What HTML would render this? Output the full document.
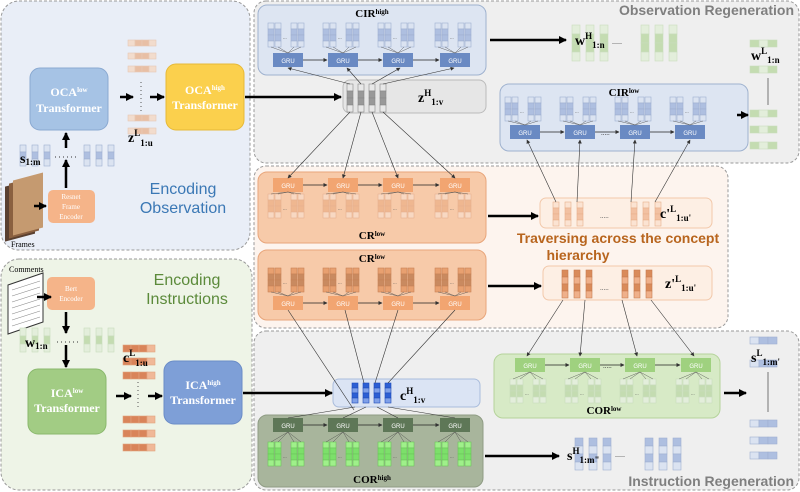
<!DOCTYPE html>
<html><head><meta charset="utf-8"><style>
html,body{margin:0;padding:0;background:#fff;}
svg{display:block;font-family:"Liberation Serif",serif;}
.w{fill:#fff;font-weight:bold;}
.b{font-weight:bold;}
.s{font-family:"Liberation Sans",sans-serif;}
</style></head><body>
<svg id="s" width="800" height="492" viewBox="0 0 800 492" xmlns="http://www.w3.org/2000/svg">
<defs>
<marker id="ah" markerUnits="userSpaceOnUse" markerWidth="8" markerHeight="8" refX="7" refY="4" orient="auto"><path d="M0,0 L8,4 L0,8 z" fill="#000"/></marker>
<marker id="as" markerUnits="userSpaceOnUse" markerWidth="4" markerHeight="4" refX="3.5" refY="2" orient="auto"><path d="M0,0 L4,2 L0,4 z" fill="#333"/></marker>
</defs>
<!-- panels -->
<rect x="1" y="1" width="249" height="249" rx="18" fill="#e9eef7" stroke="#999" stroke-dasharray="3,2"/>
<rect x="1" y="259" width="251" height="231" rx="18" fill="#eef4e7" stroke="#999" stroke-dasharray="3,2"/>
<rect x="254" y="1" width="545" height="162" rx="12" fill="#efefef" stroke="#999" stroke-dasharray="3,2"/>
<rect x="254" y="166" width="474" height="162" rx="12" fill="#fdf4ee" stroke="#999" stroke-dasharray="3,2"/>
<rect x="254" y="331" width="545" height="159" rx="12" fill="#efefef" stroke="#999" stroke-dasharray="3,2"/>
<text x="794" y="15" text-anchor="end" class="s b" font-size="14" fill="#7f7f7f">Observation Regeneration</text>
<text x="794" y="486" text-anchor="end" class="s b" font-size="14" fill="#7f7f7f">Instruction Regeneration</text>
<text x="183" y="194" text-anchor="middle" class="s" font-size="16" fill="#3b78b5">Encoding</text>
<text x="183" y="213" text-anchor="middle" class="s" font-size="16" fill="#3b78b5">Observation</text>
<text x="187" y="285" text-anchor="middle" class="s" font-size="16" fill="#5b8a3a">Encoding</text>
<text x="187" y="304" text-anchor="middle" class="s" font-size="16" fill="#5b8a3a">Instructions</text>
<text x="618" y="243" text-anchor="middle" class="s b" font-size="14" fill="#b8651e">Traversing across the concept</text>
<text x="578" y="260" text-anchor="middle" class="s b" font-size="14" fill="#b8651e">hierarchy</text>

<!-- inner boxes -->
<rect x="258" y="5" width="228" height="70" rx="9" fill="#dde5f2" stroke="#9fb2cf"/>
<text x="372" y="17" text-anchor="middle" class="b" font-size="11">CIR<tspan font-size="7" dy="-3">high</tspan></text>
<rect x="343" y="80" width="143" height="33" rx="7" fill="#e6e6e6" stroke="#bbb"/>
<text x="418" y="102" class="b" font-size="14">z<tspan font-size="9" dy="-6">H</tspan><tspan font-size="9" dy="9">1:v</tspan></text>
<rect x="500" y="84" width="248" height="67" rx="9" fill="#dde5f2" stroke="#9fb2cf"/>
<text x="624" y="96" text-anchor="middle" class="b" font-size="11">CIR<tspan font-size="7" dy="-3">low</tspan></text>

<rect x="258" y="172" width="228" height="71" rx="9" fill="#f7caa9" stroke="#e8a57a"/>
<text x="372" y="239" text-anchor="middle" class="b" font-size="11">CR<tspan font-size="7" dy="-3">low</tspan></text>
<rect x="258" y="250" width="228" height="70" rx="9" fill="#f7caa9" stroke="#e8a57a"/>
<text x="372" y="262" text-anchor="middle" class="b" font-size="11">CR<tspan font-size="7" dy="-3">low</tspan></text>
<rect x="540" y="198" width="172" height="30" rx="6" fill="#fdefe4" stroke="#f2c8aa"/>
<text x="660" y="218" class="b" font-size="14">c'<tspan font-size="9" dy="-6">L</tspan><tspan font-size="9" dy="9">1:u'</tspan></text>
<rect x="543" y="266" width="169" height="34" rx="6" fill="#fdefe4" stroke="#f2c8aa"/>
<text x="665" y="288" class="b" font-size="14">z'<tspan font-size="9" dy="-6">L</tspan><tspan font-size="9" dy="9">1:u'</tspan></text>

<rect x="333" y="379" width="147" height="28" rx="6" fill="#dbe4f4" stroke="#a9bcdc"/>
<text x="400" y="400" class="b" font-size="14">c<tspan font-size="9" dy="-6">H</tspan><tspan font-size="9" dy="9">1:v</tspan></text>
<rect x="258" y="415" width="225" height="72" rx="9" fill="#a8b59c" stroke="#8f9c84"/>
<text x="372" y="483" text-anchor="middle" class="b" font-size="11">COR<tspan font-size="7" dy="-3">high</tspan></text>
<rect x="494" y="354" width="226" height="64" rx="9" fill="#d7eac6" stroke="#b5d39b"/>
<text x="604" y="414" text-anchor="middle" class="b" font-size="11">COR<tspan font-size="7" dy="-3">low</tspan></text>

<!-- left blocks -->
<rect x="30" y="68" width="78" height="62" rx="10" fill="#a6c3e5" stroke="#8aa9d1"/>
<text x="69" y="96" text-anchor="middle" class="w" font-size="12">OCA<tspan font-size="7" dy="-4">low</tspan></text>
<text x="69" y="112" text-anchor="middle" class="w" font-size="12">Transformer</text>
<rect x="166" y="64" width="78" height="66" rx="10" fill="#fbd04d" stroke="#e6b938"/>
<text x="205" y="94" text-anchor="middle" class="w" font-size="12">OCA<tspan font-size="7" dy="-4">high</tspan></text>
<text x="205" y="109" text-anchor="middle" class="w" font-size="12">Transformer</text>
<rect x="48" y="190" width="47" height="33" rx="5" fill="#f5b489"/>
<text x="71" y="199" text-anchor="middle" fill="#fff" font-size="7">Resnet</text>
<text x="71" y="209" text-anchor="middle" fill="#fff" font-size="7">Frame</text>
<text x="71" y="219" text-anchor="middle" fill="#fff" font-size="7">Encoder</text>
<g>
<rect x="5" y="185" width="30" height="55" fill="#5a4030" transform="skewY(-15) translate(0,3)"/>
<rect x="9" y="183" width="30" height="55" fill="#8a6040" transform="skewY(-15) translate(0,3)"/>
<rect x="13" y="181" width="30" height="55" fill="#c59a70" transform="skewY(-15) translate(0,3)"/>
</g>
<text x="11" y="247" font-size="8">Frames</text>
<line x1="34" y1="206" x2="46" y2="206" stroke="#000" stroke-width="2.5" marker-end="url(#ah)"/>
<line x1="66" y1="188" x2="66" y2="160" stroke="#000" stroke-width="2.5" marker-end="url(#ah)"/>
<line x1="66" y1="148" x2="66" y2="133" stroke="#000" stroke-width="2.5" marker-end="url(#ah)"/>
<text x="20" y="163" class="b" font-size="14">s<tspan font-size="9" dy="2">1:m</tspan></text>
<line x1="55" y1="157" x2="78" y2="157" stroke="#333" stroke-dasharray="1,3"/>
<line x1="120" y1="97" x2="133" y2="97" stroke="#000" stroke-width="2.5" marker-end="url(#ah)"/>
<line x1="150" y1="97" x2="164" y2="97" stroke="#000" stroke-width="2.5" marker-end="url(#ah)"/>
<line x1="141" y1="82" x2="141" y2="112" stroke="#555" stroke-dasharray="1,3"/>
<text x="128" y="142" class="b" font-size="14">z<tspan font-size="9" dy="-6">L</tspan><tspan font-size="9" dy="10">1:u</tspan></text>
<line x1="245" y1="97" x2="341" y2="97" stroke="#000" stroke-width="2.5" marker-end="url(#ah)"/>

<!-- instructions left -->
<polygon points="8,285 43,273 43,322 8,334" fill="#fff" stroke="#333"/>
<g stroke="#888" stroke-width="0.6"><line x1="12" y1="290" x2="40" y2="281"/><line x1="12" y1="296" x2="40" y2="287"/><line x1="12" y1="302" x2="40" y2="293"/><line x1="12" y1="308" x2="40" y2="299"/><line x1="12" y1="314" x2="40" y2="305"/><line x1="12" y1="320" x2="40" y2="311"/><line x1="12" y1="326" x2="40" y2="317"/></g>
<text x="9" y="272" font-size="8">Comments</text>
<rect x="47" y="277" width="48" height="33" rx="5" fill="#f5b489"/>
<text x="71" y="291" text-anchor="middle" fill="#fff" font-size="7">Bert</text>
<text x="71" y="301" text-anchor="middle" fill="#fff" font-size="7">Encoder</text>
<line x1="37" y1="297" x2="51" y2="297" stroke="#000" stroke-width="2.5" marker-end="url(#ah)"/>
<line x1="66" y1="312" x2="66" y2="333" stroke="#000" stroke-width="2.5" marker-end="url(#ah)"/>
<line x1="66" y1="345" x2="66" y2="367" stroke="#000" stroke-width="2.5" marker-end="url(#ah)"/>
<text x="25" y="347" class="b" font-size="14">w<tspan font-size="9" dy="2">1:n</tspan></text>
<line x1="57" y1="342" x2="78" y2="342" stroke="#333" stroke-dasharray="1,3"/>
<rect x="28" y="369" width="78" height="65" rx="10" fill="#a2cc84" stroke="#8ab86d"/>
<text x="67" y="397" text-anchor="middle" class="w" font-size="12">ICA<tspan font-size="7" dy="-4">low</tspan></text>
<text x="67" y="412" text-anchor="middle" class="w" font-size="12">Transformer</text>
<rect x="164" y="361" width="78" height="63" rx="10" fill="#7e9fd7" stroke="#6a8cc7"/>
<text x="203" y="389" text-anchor="middle" class="w" font-size="12">ICA<tspan font-size="7" dy="-4">high</tspan></text>
<text x="203" y="404" text-anchor="middle" class="w" font-size="12">Transformer</text>
<text x="123" y="362" class="b" font-size="14">c<tspan font-size="9" dy="-6">L</tspan><tspan font-size="9" dy="10">1:u</tspan></text>
<line x1="116" y1="396" x2="131" y2="396" stroke="#000" stroke-width="2.5" marker-end="url(#ah)"/>
<line x1="148" y1="396" x2="162" y2="396" stroke="#000" stroke-width="2.5" marker-end="url(#ah)"/>
<line x1="138" y1="382" x2="138" y2="410" stroke="#555" stroke-dasharray="1,3"/>
<line x1="243" y1="393" x2="332" y2="393" stroke="#000" stroke-width="2.5" marker-end="url(#ah)"/>

<!-- right side arrows -->
<line x1="490" y1="40" x2="566" y2="40" stroke="#000" stroke-width="2.5" marker-end="url(#ah)"/>
<line x1="488" y1="216" x2="538" y2="216" stroke="#000" stroke-width="2.5" marker-end="url(#ah)"/>
<line x1="488" y1="286" x2="541" y2="286" stroke="#000" stroke-width="2.5" marker-end="url(#ah)"/>
<line x1="737" y1="115" x2="748" y2="115" stroke="#000" stroke-width="2.5" marker-end="url(#ah)"/>
<line x1="724" y1="393" x2="746" y2="393" stroke="#000" stroke-width="2.5" marker-end="url(#ah)"/>
<line x1="485" y1="456" x2="559" y2="456" stroke="#000" stroke-width="2.5" marker-end="url(#ah)"/>
<text x="575" y="45" class="b" font-size="14">w<tspan font-size="9" dy="-6">H</tspan><tspan font-size="9" dy="9">1:n</tspan></text>
<text x="751" y="60" class="b" font-size="14">w<tspan font-size="9" dy="-6">L</tspan><tspan font-size="9" dy="9">1:n</tspan></text>
<text x="567" y="460" class="b" font-size="14">s<tspan font-size="9" dy="-6">H</tspan><tspan font-size="9" dy="9">1:m"</tspan></text>
<text x="751" y="362" class="b" font-size="14">s<tspan font-size="9" dy="-6">L</tspan><tspan font-size="9" dy="9">1:m'</tspan></text>
<g id="dyn"></g>
</svg>
<script>
var NS="http://www.w3.org/2000/svg",svg=document.getElementById("s"),g=document.getElementById("dyn");
function el(t,a){var e=document.createElementNS(NS,t);for(var k in a)e.setAttribute(k,a[k]);g.appendChild(e);return e;}
function vcol(x,y,n,w,h,f,f2,st,dark){for(var i=0;i<n;i++)el("rect",{x:x,y:y+i*h,width:w,height:h,fill:(dark&&dark.indexOf(i)>=0)?f2:f,stroke:st,"stroke-width":0.6});}
function hrow(x,y,n,w,h,f,f2,st,dark){for(var i=0;i<n;i++)el("rect",{x:x+i*w,y:y,width:w,height:h,fill:(dark&&dark.indexOf(i)>=0)?f2:f,stroke:st,"stroke-width":0.6});}
function line(x1,y1,x2,y2,c,w,m){var a={x1:x1,y1:y1,x2:x2,y2:y2,stroke:c||"#333","stroke-width":w||0.7};if(m)a["marker-end"]="url(#as)";el("line",a);}
function gru(x,y,fill){el("rect",{x:x,y:y,width:30,height:14,fill:fill});var t=el("text",{x:x+15,y:y+10,"text-anchor":"middle","font-size":6,fill:"#fff","font-family":"Liberation Sans,sans-serif"});t.textContent="GRU";}
function gruRow(xs,y,fill,vy,up,vf,vf2,vst){
 xs.forEach(function(x,i){gru(x,y,fill);
  if(i<xs.length-1)line(x+30,y+7,xs[i+1]-1,y+7,"#222",0.8,true);
  [-6,1,17,24].forEach(function(o){vcol(x+o+1,vy,4,6,6,vf,vf2,vst,[1,2]);
   if(up)line(x+15,y,x+o+4,vy+24,"#444",0.4);else line(x+15,y+14,x+o+4,vy,"#444",0.4);});
  el("text",{x:x+10,y:vy+16,"font-size":5,fill:"#555"}).textContent="...";
 });}
var BL="#dbe3f1",BD="#aebfe0",BS="#9fb0d0";
[20,32,44,84,96,108].forEach(function(x){vcol(x,145,3,6,7,BL,BD,BS,[1]);});
[40,53,66,115,128].forEach(function(y){hrow(128,y,4,7,6,"#f2dccd","#e8bfa5","#e6c9b5",[1,2]);});
var GL="#e3eedb",GD="#c4dcb1",GS="#c9dcbc";
[20,32,44,84,96,108].forEach(function(x){vcol(x,328,3,6,8,GL,GD,GS,[1]);});
[345,358,372,416,430,444].forEach(function(y){hrow(123,y,4,8,7,"#d9845a","#f0b898","#e0a27e",[3]);});
gruRow([273,328,383,440],53,"#6a8ac3",23,true,BL,BD,BS);
[347,358,369,380].forEach(function(x){vcol(x,84,4,6,7,"#e8e8e8","#999","#888",[1,2]);});
[[350,288],[361,347],[372,400],[383,454]].forEach(function(p){line(p[0],84,p[1],68,"#333",0.6,true);});
gruRow([510,565,620,675],125,"#6a8ac3",97,true,BL,BD,BS);
el("text",{x:601,y:135,"font-size":7,fill:"#333"}).textContent=".....";
gruRow([273,328,383,440],178,"#f2a571",194,false,"#f8d8c2","#efb790","#e6b190");
[[350,112,288,178],[361,112,343,178],[372,112,398,178],[383,112,455,178]].forEach(function(p){line(p[0],p[1],p[2],p[3],"#333",0.6,true);});
[553,565,577,631,643,655].forEach(function(x){vcol(x,202,4,6,6,"#fbe3d2","#f2c1a2","#e8b08c",[1,2]);});
[[556,202,527,140],[577,202,580,140],[631,202,635,140],[655,202,690,140]].forEach(function(p){line(p[0],p[1],p[2],p[3],"#333",0.6,true);});
el("text",{x:600,y:218,"font-size":7,fill:"#555"}).textContent=".....";
gruRow([273,328,383,440],296,"#f2a571",268,true,"#e8a070","#c98a60","#c88358");
[562,574,586,622,634,646].forEach(function(x){vcol(x,270,4,6,7,"#efb08a","#d98b5a","#c77d50",[0,2]);});
[[563,300,527,356],[585,300,580,356],[622,300,637,356],[651,300,694,356]].forEach(function(p){line(p[0],p[1],p[2],p[3],"#333",0.6,true);});
el("text",{x:600,y:290,"font-size":7,fill:"#555"}).textContent=".....";
[352,363,374,385].forEach(function(x){vcol(x,383,4,6,5,"#2d5fd4","#7fa0e8","#1f4cb8",[1,3]);});
[[288,310,354,410],[345,310,364,383],[398,310,375,383],[455,310,388,383]].forEach(function(p){line(p[0],p[1],p[2],p[3],"#333",0.6,false);});
gruRow([273,328,383,440],418,"#5e7757",442,false,"#9ff08a","#7ce06a","#6dc35c");
[[355,407,288,418],[366,407,343,418],[377,407,398,418],[388,407,455,418]].forEach(function(p){line(p[0],p[1],p[2],p[3],"#333",0.6,false);});
gruRow([515,570,625,681],358,"#9fd17f",379,false,GL,GD,GS);
el("text",{x:603,y:368,"font-size":7,fill:"#333"}).textContent=".....";
[572,586,600,641,655,669].forEach(function(x){vcol(x,25,4,8,9,GL,GD,GS,[1,2]);});
el("text",{x:612,y:44,"font-size":8,fill:"#555"}).textContent=".....";
[575,589,603,645,659,673].forEach(function(x){vcol(x,438,4,8,8,BL,BD,BS,[0,2]);});
el("text",{x:615,y:457,"font-size":8,fill:"#555"}).textContent=".....";
[40,66,110,126,142].forEach(function(y){hrow(750,y,3,9,7,GL,GD,GS,[0,2]);});
line(768,78,768,105,"#555",0.8);
[337,360,420,437,452].forEach(function(y){hrow(750,y,3,9,7,BL,BD,BS,[1,2]);});
line(768,372,768,412,"#555",0.8);
// bring label text (outside GRU boxes) to front
var ts=[].slice.call(svg.children).filter(function(n){return n.tagName==="text";});
ts.forEach(function(t){svg.appendChild(t);});
</script>
</body></html>
